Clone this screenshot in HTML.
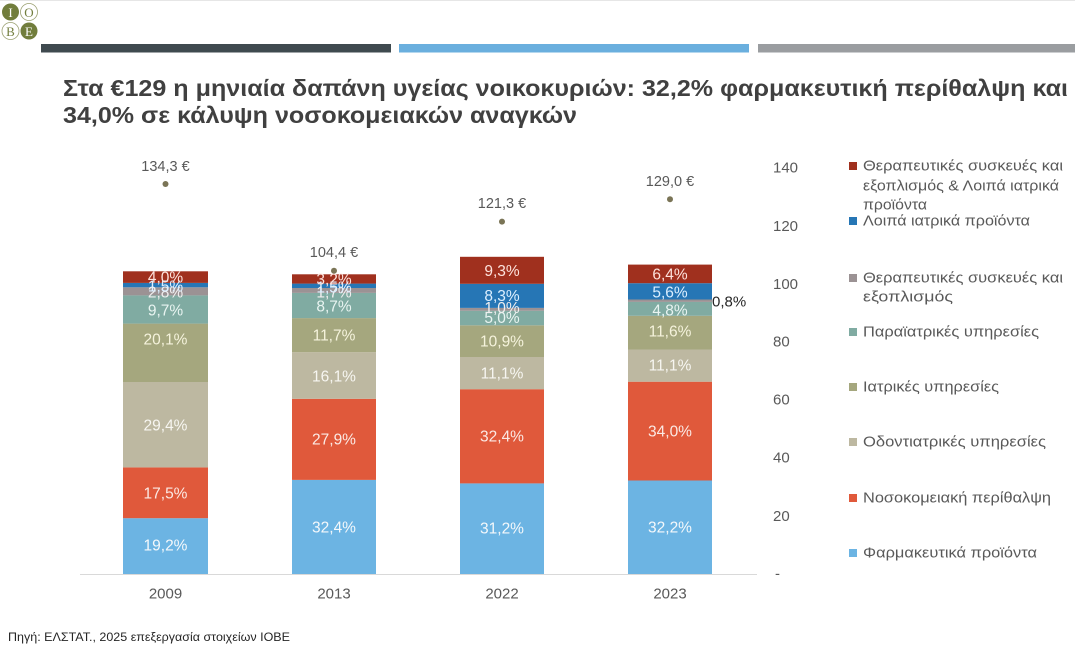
<!DOCTYPE html>
<html>
<head>
<meta charset="utf-8">
<style>
html,body{margin:0;padding:0;background:#fff;}
svg{display:block;}
text{font-family:"Liberation Sans","DejaVu Sans",sans-serif;}
</style>
</head>
<body>
<svg width="1075" height="645" viewBox="0 0 1075 645" xmlns="http://www.w3.org/2000/svg">
<rect width="1075" height="645" fill="#fff"/>
<line x1="0" y1="0.5" x2="1075" y2="0.5" stroke="#e6e6e6" stroke-width="1"/>

<!-- logo -->
<circle cx="10.5" cy="12" r="8.5" fill="#717d3c"/>
<circle cx="29" cy="12" r="8.5" fill="#fff" stroke="#9aa070" stroke-width="0.8"/>
<circle cx="10.5" cy="31" r="8.5" fill="#fff" stroke="#9aa070" stroke-width="0.8"/>
<circle cx="29" cy="31" r="8.5" fill="#717d3c"/>
<text x="10.5" y="17" font-size="13" fill="#fff" text-anchor="middle" style="font-family:'Liberation Serif',serif">I</text>
<text x="29" y="17" font-size="13" fill="#717d3c" text-anchor="middle" style="font-family:'Liberation Serif',serif">O</text>
<text x="10.5" y="36" font-size="13" fill="#717d3c" text-anchor="middle" style="font-family:'Liberation Serif',serif">B</text>
<text x="29" y="36" font-size="13" fill="#fff" text-anchor="middle" style="font-family:'Liberation Serif',serif">E</text>

<!-- header bars -->
<rect x="41" y="44" width="350" height="8.5" fill="#3f4a4f"/>
<rect x="399" y="44" width="350" height="8.5" fill="#6aafde"/>
<rect x="758" y="44" width="317" height="8.5" fill="#9a9da0"/>

<!-- title -->
<text x="63" y="96" font-size="23.5" font-weight="bold" fill="#404040" textLength="1005" lengthAdjust="spacingAndGlyphs">Στα €129 η μηνιαία δαπάνη υγείας νοικοκυριών: 32,2% φαρμακευτική περίθαλψη και</text>
<text x="63" y="123" font-size="23.5" font-weight="bold" fill="#404040" textLength="514" lengthAdjust="spacingAndGlyphs">34,0% σε κάλυψη νοσοκομειακών αναγκών</text>

<!-- axis baseline -->
<line x1="80" y1="574.5" x2="757" y2="574.5" stroke="#d9d9d9" stroke-width="1"/>

<!-- bars 2009 -->
<g>
<rect x="123" y="518.2" width="85" height="55.8" fill="#6cb4e3"/>
<rect x="123" y="467.4" width="85" height="50.8" fill="#e0593b"/>
<rect x="123" y="382.0" width="85" height="85.4" fill="#bdb8a1"/>
<rect x="123" y="323.6" width="85" height="58.4" fill="#a5a77e"/>
<rect x="123" y="295.4" width="85" height="28.2" fill="#80aba2"/>
<rect x="123" y="287.3" width="85" height="8.1" fill="#9b9294"/>
<rect x="123" y="282.9" width="85" height="4.4" fill="#2676b5"/>
<rect x="123" y="271.3" width="85" height="11.6" fill="#a0301e"/>
</g>
<!-- bars 2013 -->
<g>
<rect x="292" y="479.9" width="84" height="94.1" fill="#6cb4e3"/>
<rect x="292" y="398.8" width="84" height="81.1" fill="#e0593b"/>
<rect x="292" y="352.1" width="84" height="46.7" fill="#bdb8a1"/>
<rect x="292" y="318.1" width="84" height="34.0" fill="#a5a77e"/>
<rect x="292" y="292.9" width="84" height="25.2" fill="#80aba2"/>
<rect x="292" y="288.0" width="84" height="4.9" fill="#9b9294"/>
<rect x="292" y="283.6" width="84" height="4.4" fill="#2676b5"/>
<rect x="292" y="274.3" width="84" height="9.3" fill="#a0301e"/>
</g>
<!-- bars 2022 -->
<g>
<rect x="460" y="483.4" width="84" height="90.6" fill="#6cb4e3"/>
<rect x="460" y="389.2" width="84" height="94.2" fill="#e0593b"/>
<rect x="460" y="357.0" width="84" height="32.2" fill="#bdb8a1"/>
<rect x="460" y="325.3" width="84" height="31.7" fill="#a5a77e"/>
<rect x="460" y="310.8" width="84" height="14.5" fill="#80aba2"/>
<rect x="460" y="307.9" width="84" height="2.9" fill="#9b9294"/>
<rect x="460" y="283.8" width="84" height="24.1" fill="#2676b5"/>
<rect x="460" y="256.8" width="84" height="27.0" fill="#a0301e"/>
</g>
<!-- bars 2023 -->
<g>
<rect x="628" y="480.5" width="84" height="93.5" fill="#6cb4e3"/>
<rect x="628" y="381.7" width="84" height="98.8" fill="#e0593b"/>
<rect x="628" y="349.5" width="84" height="32.2" fill="#bdb8a1"/>
<rect x="628" y="315.8" width="84" height="33.7" fill="#a5a77e"/>
<rect x="628" y="301.9" width="84" height="13.9" fill="#80aba2"/>
<rect x="628" y="299.5" width="84" height="2.4" fill="#9b9294"/>
<rect x="628" y="283.2" width="84" height="16.3" fill="#2676b5"/>
<rect x="628" y="264.6" width="84" height="18.6" fill="#a0301e"/>
</g>

<!-- bar labels -->
<g font-size="15.5" text-anchor="middle" dominant-baseline="central">
<text x="165.5" y="546" fill="#f4f8fb">19,2%</text>
<text x="165.5" y="494" fill="#fbe9e4">17,5%</text>
<text x="165.5" y="426" fill="#f7f6f1">29,4%</text>
<text x="165.5" y="340" fill="#f5f3dc">20,1%</text>
<text x="165.5" y="311" fill="#e8f4f1">9,7%</text>
<text x="165.5" y="293" fill="#f0eeee">2,8%</text>
<text x="165.5" y="287" fill="#dcefff">1,5%</text>
<text x="165.5" y="278" fill="#fde2dc">4,0%</text>

<text x="334" y="528" fill="#f4f8fb">32,4%</text>
<text x="334" y="440" fill="#fbe9e4">27,9%</text>
<text x="334" y="377" fill="#f7f6f1">16,1%</text>
<text x="334" y="336" fill="#f5f3dc">11,7%</text>
<text x="334" y="307" fill="#e8f4f1">8,7%</text>
<text x="334" y="293" fill="#f0eeee">1,7%</text>
<text x="334" y="288" fill="#dcefff">1,5%</text>
<text x="334" y="280" fill="#fde2dc">3,2%</text>

<text x="502" y="529" fill="#f4f8fb">31,2%</text>
<text x="502" y="437" fill="#fbe9e4">32,4%</text>
<text x="502" y="374" fill="#f7f6f1">11,1%</text>
<text x="502" y="342" fill="#f5f3dc">10,9%</text>
<text x="502" y="318.5" fill="#e8f4f1">5,0%</text>
<text x="502" y="308.5" fill="#f0eeee">1,0%</text>
<text x="502" y="296.5" fill="#dcefff">8,3%</text>
<text x="502" y="271.5" fill="#fde2dc">9,3%</text>

<text x="670" y="528" fill="#f4f8fb">32,2%</text>
<text x="670" y="432" fill="#fbe9e4">34,0%</text>
<text x="670" y="366" fill="#f7f6f1">11,1%</text>
<text x="670" y="332" fill="#f5f3dc">11,6%</text>
<text x="670" y="311" fill="#e8f4f1">4,8%</text>
<text x="670" y="293" fill="#dcefff">5,6%</text>
<text x="670" y="275" fill="#fde2dc">6,4%</text>
</g>
<text x="712" y="302" font-size="15" fill="#262626" dominant-baseline="central">0,8%</text>

<!-- totals dots -->
<g fill="#7a7456">
<circle cx="165.5" cy="184" r="3"/>
<circle cx="334" cy="270.7" r="3"/>
<circle cx="502" cy="221.6" r="3"/>
<circle cx="670" cy="199.3" r="3"/>
</g>
<g font-size="14.5" fill="#595959" text-anchor="middle" dominant-baseline="central">
<text x="165.5" y="167">134,3 €</text>
<text x="334" y="253">104,4 €</text>
<text x="502" y="204">121,3 €</text>
<text x="670" y="182">129,0 €</text>
</g>

<!-- right axis -->
<g font-size="15" fill="#595959" dominant-baseline="central">
<text x="773" y="168">140</text>
<text x="773" y="226.5">120</text>
<text x="773" y="284.5">100</text>
<text x="773" y="342">80</text>
<text x="773" y="400">60</text>
<text x="773" y="458">40</text>
<text x="773" y="516.5">20</text>
<text x="775" y="574">-</text>
</g>

<!-- x labels -->
<g font-size="15" fill="#595959" text-anchor="middle" dominant-baseline="central">
<text x="165.5" y="594">2009</text>
<text x="334" y="594">2013</text>
<text x="502" y="594">2022</text>
<text x="670" y="594">2023</text>
</g>

<!-- legend -->
<rect x="849" y="162" width="8" height="8" fill="#a0301e"/>
<rect x="849" y="217" width="8" height="8" fill="#2676b5"/>
<rect x="849" y="274" width="8" height="8" fill="#9b9294"/>
<rect x="849" y="328" width="8" height="8" fill="#80aba2"/>
<rect x="849" y="383" width="8" height="8" fill="#a5a77e"/>
<rect x="849" y="438" width="8" height="8" fill="#bdb8a1"/>
<rect x="849" y="494" width="8" height="8" fill="#e0593b"/>
<rect x="849" y="549" width="8" height="8" fill="#6cb4e3"/>
<g font-size="15" fill="#595959" dominant-baseline="central">
<text x="863" y="166" textLength="200" lengthAdjust="spacingAndGlyphs">Θεραπευτικές συσκευές και</text>
<text x="863" y="186" textLength="196" lengthAdjust="spacingAndGlyphs">εξοπλισμός &amp; Λοιπά ιατρικά</text>
<text x="863" y="205" textLength="64" lengthAdjust="spacingAndGlyphs">προϊόντα</text>
<text x="863" y="221" textLength="167" lengthAdjust="spacingAndGlyphs">Λοιπά ιατρικά προϊόντα</text>
<text x="863" y="278" textLength="200" lengthAdjust="spacingAndGlyphs">Θεραπευτικές συσκευές και</text>
<text x="863" y="297" textLength="90" lengthAdjust="spacingAndGlyphs">εξοπλισμός</text>
<text x="863" y="332" textLength="176" lengthAdjust="spacingAndGlyphs">Παραϊατρικές υπηρεσίες</text>
<text x="863" y="387" textLength="136" lengthAdjust="spacingAndGlyphs">Ιατρικές υπηρεσίες</text>
<text x="863" y="442" textLength="183" lengthAdjust="spacingAndGlyphs">Οδοντιατρικές υπηρεσίες</text>
<text x="863" y="498" textLength="188" lengthAdjust="spacingAndGlyphs">Νοσοκομειακή περίθαλψη</text>
<text x="863" y="553" textLength="174" lengthAdjust="spacingAndGlyphs">Φαρμακευτικά προϊόντα</text>
</g>

<!-- source -->
<text x="8" y="637" font-size="12" fill="#262626" dominant-baseline="central" textLength="282" lengthAdjust="spacingAndGlyphs">Πηγή: ΕΛΣΤΑΤ., 2025 επεξεργασία στοιχείων ΙΟΒΕ</text>
</svg>
</body>
</html>
